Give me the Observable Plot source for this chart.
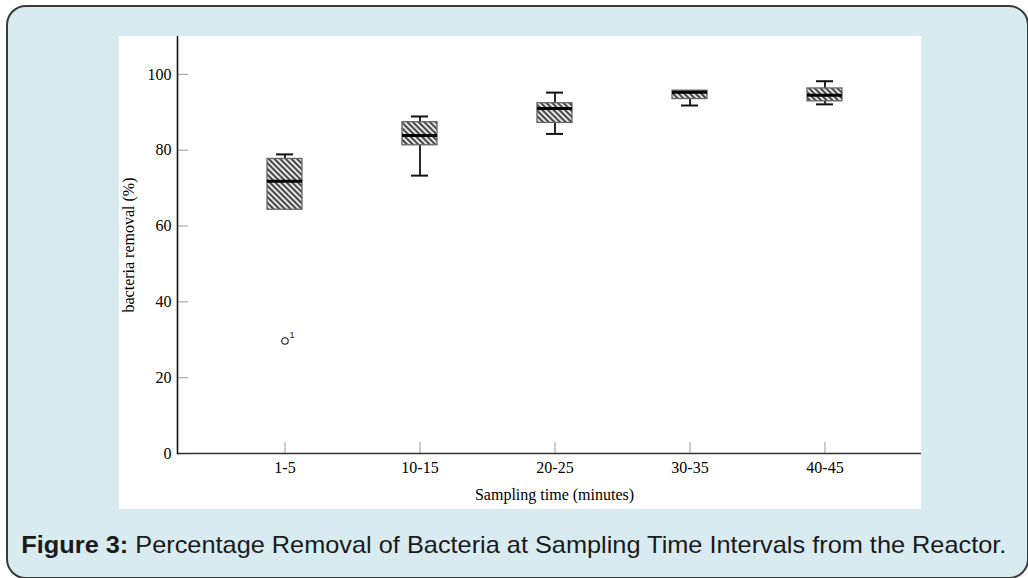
<!DOCTYPE html>
<html>
<head>
<meta charset="utf-8">
<script src="https://cdn.jsdelivr.net/npm/d3@7"></script>
<script src="https://cdn.jsdelivr.net/npm/@observablehq/plot@0.6"></script>
<style>
  html, body { margin: 0; padding: 0; background: #ffffff; width: 1028px; height: 578px; overflow: hidden; }
  #panel { position: absolute; left: 6px; top: 5px; width: 1019px; height: 570px; border: 2px solid #3a3a3a; border-radius: 20px; background: #d8ebf1; }
  #chart { position: absolute; left: 119px; top: 36px; width: 802px; height: 473px; background: #ffffff; }
  #caption { position: absolute; left: 0; top: 531px; width: 1028px; text-align: center; font-family: "Liberation Sans Narrow", "Liberation Sans", sans-serif; font-size: 24px; color: #1a1a1a; white-space: nowrap; }
  #caption span.inner { display: inline-block; transform-origin: center; }
</style>
</head>
<body>
<div id="panel"></div>
<div id="chart"></div>
<div id="caption"><span class="inner"><b>Figure 3:</b> Percentage Removal of Bacteria at Sampling Time Intervals from the Reactor.</span></div>
<script>
// ---- data ----
const categories = ["1-5", "10-15", "20-25", "30-35", "40-45"];
const whiskerLow = [64.3, 73.3, 84.3, 91.8, 92.1];
const q1 = [64.3, 81.3, 87.2, 93.5, 92.9];
const median = [71.8, 83.9, 91.0, 95.3, 94.5];
const q3 = [77.7, 87.4, 92.4, 95.7, 96.3];
const whiskerHigh = [78.9, 88.9, 95.2, 95.7, 98.2];
const outlierCategory = ["1-5"];
const outlierValue = [29.7];
const outlierLabel = ["1"];
const yTicks = [0, 20, 40, 60, 80, 100];
const xTitle = "Sampling time (minutes)";
const yTitle = "bacteria removal (%)";

const boxes = categories.map((c, i) => ({
  cat: c, lo: whiskerLow[i], q1: q1[i], med: median[i], q3: q3[i], hi: whiskerHigh[i]
}));
const outliers = outlierCategory.map((c, i) => ({cat: c, v: outlierValue[i], label: outlierLabel[i]}));

const W = 802, H = 473, ML = 58, MR = 0, MT = 0, MB = 56;
const frameW = W - ML - MR, frameH = H - MT - MB;
const tickLen = 11;
const capInset = 9;

const plot = Plot.plot({
  width: W, height: H,
  marginLeft: ML, marginRight: MR, marginTop: MT, marginBottom: MB,
  style: {fontFamily: "'Liberation Serif', 'Times New Roman', serif", fontSize: "16px", color: "#000", background: "transparent"},
  x: {type: "band", domain: categories, range: [146.5, 724.5], paddingInner: 0.742, paddingOuter: 0, label: null},
  y: {domain: [0, 110], label: null},
  marks: [
    // tick marks (inward)
    Plot.ruleY(yTicks, {stroke: "#aaa", strokeWidth: 1.2, insetRight: frameW - tickLen}),
    Plot.ruleX(categories, {stroke: "#aaa", strokeWidth: 1.2, insetTop: frameH - tickLen}),
    Plot.axisY({ticks: yTicks, tickSize: 0, tickPadding: 6, label: null, fontSize: 16, fill: "#000"}),
    Plot.axisX({tickSize: 0, tickPadding: 8, label: null, fontSize: 16, fill: "#000"}),
    // whiskers
    Plot.ruleX(boxes, {x: "cat", y1: "lo", y2: "hi", stroke: "#111", strokeWidth: 1.8}),
    // boxes
    Plot.barY(boxes, {x: "cat", y1: "q1", y2: "q3", fill: "url(#hatch)", stroke: "#666", strokeWidth: 1.3}),
    // caps
    Plot.tickY(boxes.filter(d => d.hi > d.q3), {x: "cat", y: "hi", stroke: "#111", strokeWidth: 2, insetLeft: capInset, insetRight: capInset}),
    Plot.tickY(boxes.filter(d => d.lo < d.q1), {x: "cat", y: "lo", stroke: "#111", strokeWidth: 2, insetLeft: capInset, insetRight: capInset}),
    // medians
    Plot.tickY(boxes, {x: "cat", y: "med", stroke: "#000", strokeWidth: 3}),
    // outliers
    Plot.dot(outliers, {x: "cat", y: "v", r: 3.2, stroke: "#222", strokeWidth: 1.1, fill: "none"}),
    Plot.text(outliers, {x: "cat", y: "v", text: "label", dx: 7, dy: -6, fontSize: 9, fontFamily: "'Liberation Sans', Arial, sans-serif", textAnchor: "middle", fill: "#222"}),
    // axis lines
    Plot.ruleY([0], {stroke: "#333", strokeWidth: 1.6}),
    Plot.frame({anchor: "left", stroke: "#111", strokeWidth: 1.6}),
    // axis titles
    Plot.text([xTitle], {frameAnchor: "bottom", dx: 5, dy: 46, fontSize: 16, fill: "#000", lineAnchor: "bottom"}),
    Plot.text([yTitle], {frameAnchor: "left", dx: -49, rotate: -90, fontSize: 16, fill: "#000", textAnchor: "middle", lineAnchor: "middle"})
  ]
});

// hatch pattern definition
const ns = "http://www.w3.org/2000/svg";
const defs = document.createElementNS(ns, "defs");
defs.innerHTML = `<pattern id="hatch" patternUnits="userSpaceOnUse" width="4" height="4" patternTransform="rotate(45)">
  <rect width="4" height="4" fill="#e6e6e6"></rect>
  <line x1="0" y1="1" x2="4" y2="1" stroke="#404040" stroke-width="1.9"></line>
</pattern>`;
plot.insertBefore(defs, plot.firstChild);
document.getElementById("chart").appendChild(plot);

// fit caption width
const inner = document.querySelector("#caption .inner");
const w = inner.getBoundingClientRect().width;
inner.style.transform = `scaleX(${985 / w})`;
</script>
</body>
</html>
